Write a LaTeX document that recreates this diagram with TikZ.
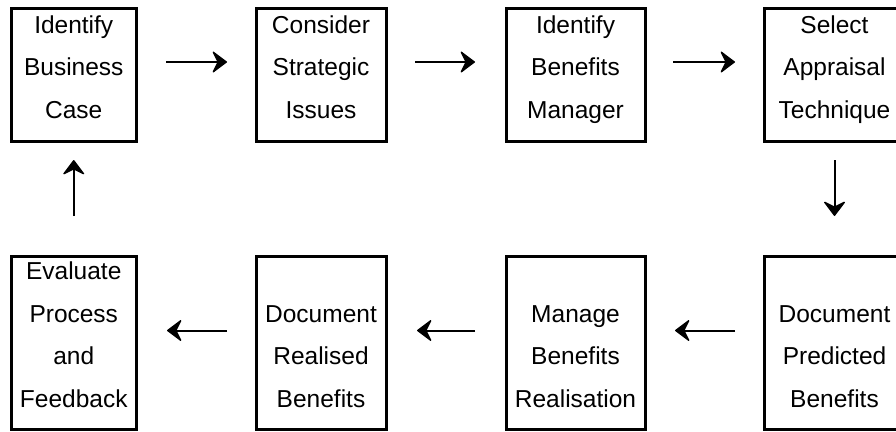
\documentclass[tikz,border=0pt]{standalone}
\usepackage{fontspec}
\setmainfont{Liberation Sans}
\usetikzlibrary{arrows.meta}
\begin{document}
\begin{tikzpicture}[x=1pt,y=-1pt,
  stepbox/.style={draw,line width=3pt,rectangle,inner sep=0pt,outer sep=0pt,fill=white},
  toprow/.style={stepbox,minimum height=133pt},
  botrow/.style={stepbox,minimum height=173pt},
  boxtext/.style={anchor=base,align=center,inner sep=0pt,
    font=\fontsize{24.5}{42.5}\selectfont},
  flow/.style={line width=2pt,
    -{Stealth[length=16pt,width=24pt,inset=6pt,line width=1.4pt,round]}}]
\useasboundingbox (0,0) rectangle (896,431);

% top row of steps
\node[toprow,minimum width=124.5pt] (b1) at (73.75,75) {};
\node[toprow,minimum width=130pt]   (b2) at (321,75) {};
\node[toprow,minimum width=139pt]   (b3) at (575.5,75) {};
\node[toprow,minimum width=141pt]   (b4) at (834.5,75) {};

% bottom row of steps
\node[botrow,minimum width=124.5pt] (c1) at (73.75,343) {};
\node[botrow,minimum width=130pt]   (c2) at (321,343) {};
\node[botrow,minimum width=139pt]   (c3) at (575.5,343) {};
\node[botrow,minimum width=141pt]   (c4) at (834.5,343) {};

% step labels (placed by the baseline of their last line)
\node[boxtext] (t1) at (73.75,118) {Identify\\Business\\Case};
\node[boxtext] (t2) at (321,118) {Consider\\Strategic\\Issues};
\node[boxtext] (t3) at (575.5,118) {Identify\\Benefits\\Manager};
\node[boxtext] (t4) at (834.5,118) {Select\\Appraisal\\Technique};
\node[boxtext] (u1) at (73.75,407) {Evaluate\\Process\\and\\Feedback};
\node[boxtext] (u2) at (321,407) {Document\\Realised\\Benefits};
\node[boxtext] (u3) at (575.5,407) {Manage\\Benefits\\Realisation};
\node[boxtext] (u4) at (834.5,407) {Document\\Predicted\\Benefits};

% flow along the top row
\draw[flow,shorten <=30pt,shorten >=29pt] ([yshift=13pt]b1.east) -- ([yshift=13pt]b2.west);
\draw[flow,shorten <=29pt,shorten >=31pt] ([yshift=13pt]b2.east) -- ([yshift=13pt]b3.west);
\draw[flow,shorten <=28pt,shorten >=29pt] ([yshift=13pt]b3.east) -- ([yshift=13pt]b4.west);

% down to the bottom row
\draw[flow,shorten <=18.5pt,shorten >=40.5pt] (b4.south) -- (c4.north);

% flow back along the bottom row
\draw[flow,shorten <=29pt,shorten >=30pt] ([yshift=12.5pt]c4.west) -- ([yshift=12.5pt]c3.east);
\draw[flow,shorten <=31pt,shorten >=31pt] ([yshift=12.5pt]c3.west) -- ([yshift=12.5pt]c2.east);
\draw[flow,shorten <=29pt,shorten >=31pt] ([yshift=12.5pt]c2.west) -- ([yshift=12.5pt]c1.east);

% back up to the start
\draw[flow,shorten <=40.5pt,shorten >=18.5pt] (c1.north) -- (b1.south);
\end{tikzpicture}
\end{document}
